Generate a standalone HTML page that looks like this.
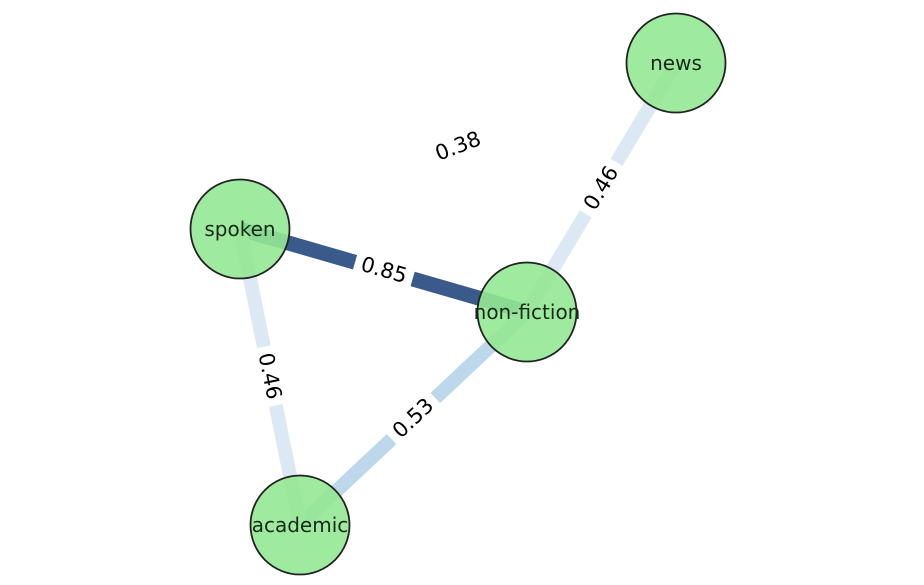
<!DOCTYPE html>
<html><head><meta charset="utf-8"><style>html,body{margin:0;padding:0;background:#fff}svg{display:block}</style></head>
<body>
<svg width="924" height="585" xmlns="http://www.w3.org/2000/svg" font-family="'DejaVu Sans','Liberation Sans',sans-serif">
<g stroke-linecap="butt">
<line x1="240" y1="229" x2="527" y2="312" stroke="#3a5a8c" stroke-width="15"/>
<line x1="527" y1="312" x2="676" y2="63" stroke="#dce9f5" stroke-width="14"/>
<line x1="300" y1="525" x2="527" y2="312" stroke="#bdd8ea" stroke-width="14"/>
<line x1="240" y1="229" x2="300" y2="525" stroke="#dce9f5" stroke-width="14"/>
</g>
<g font-size="21" fill="#000" text-anchor="middle" dominant-baseline="central">
<g transform="translate(384,270) rotate(16.1)"><rect x="-30" y="-15" width="60" height="30" fill="#fff"/><text>0.85</text></g>
<g transform="translate(601,188) rotate(-59)"><rect x="-30" y="-15" width="60" height="30" fill="#fff"/><text>0.46</text></g>
<g transform="translate(413,418) rotate(-43.2)"><rect x="-30" y="-15" width="60" height="30" fill="#fff"/><text>0.53</text></g>
<g transform="translate(270,376) rotate(78.5)"><rect x="-30" y="-15" width="60" height="30" fill="#fff"/><text>0.46</text></g>
<g transform="translate(458,146) rotate(-20.8)"><text>0.38</text></g>
</g>
<g fill="#94e894" fill-opacity="0.9" stroke="#222" stroke-width="1.8">
<circle cx="676" cy="63" r="49.5"/>
<circle cx="240" cy="229" r="49.5"/>
<circle cx="527" cy="312" r="49.5"/>
<circle cx="300" cy="525" r="49.5"/>
</g>
<g font-size="20" fill="#1a2a1a" text-anchor="middle" dominant-baseline="central">
<text x="676" y="63">news</text>
<text x="240" y="229">spoken</text>
<text x="527" y="312">non-fiction</text>
<text x="300" y="525">academic</text>
</g>
</svg>
</body></html>
